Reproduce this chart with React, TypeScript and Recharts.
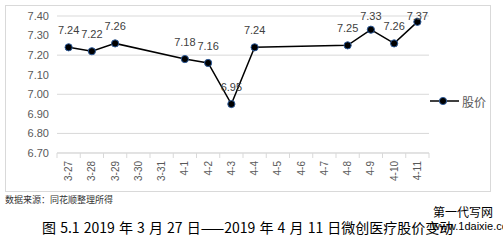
import React from 'react';
import { LineChart, Line, XAxis, YAxis, CartesianGrid, LabelList, Legend } from 'recharts';

const categories = ['3-27', '3-28', '3-29', '3-30', '3-31', '4-1', '4-2', '4-3', '4-4', '4-5', '4-6', '4-7', '4-8', '4-9', '4-10', '4-11'];
const prices: (number | null)[] = [7.24, 7.22, 7.26, null, null, 7.18, 7.16, 6.95, 7.24, null, null, null, 7.25, 7.33, 7.26, 7.37];
const yTicks = [6.7, 6.8, 6.9, 7.0, 7.1, 7.2, 7.3, 7.4];
const seriesName = '股价';
const sourceText = '数据来源：同花顺整理所得';
const captionText = '图 5.1 2019 年 3 月 27 日——2019 年 4 月 11 日微创医疗股价变动';
const watermark1 = '第一代写网';
const watermark2 = 'www.1daixie.com';

const data = categories.map((c, i) => ({ date: c, price: prices[i] }));

const W = 503;
const H = 241;
const M = { top: 16, right: 74, bottom: 48, left: 7 };
const YW = 50;
const XH = 40;
const PLOT_LEFT = M.left + YW;
const PLOT_RIGHT = W - M.right;
const PLOT_BOTTOM = H - M.bottom - XH;
const BAND = (PLOT_RIGHT - PLOT_LEFT) / categories.length;

const XTick = (props: any) => {
  const { x, payload, index } = props;
  const ty = PLOT_BOTTOM + 8;
  const last = index === categories.length - 1;
  return (
    <g>
      <line x1={x - BAND / 2} x2={x - BAND / 2} y1={PLOT_BOTTOM} y2={PLOT_BOTTOM + 5} stroke="#d9d9d9" />
      {last && <line x1={x + BAND / 2} x2={x + BAND / 2} y1={PLOT_BOTTOM} y2={PLOT_BOTTOM + 5} stroke="#d9d9d9" />}
      <text
        x={x}
        y={ty}
        transform={`rotate(-90, ${x}, ${ty})`}
        textAnchor="end"
        dominantBaseline="central"
        fontSize={10}
        fontFamily="'Liberation Sans', Arial, sans-serif"
        fill="#595959"
      >
        {payload.value}
      </text>
    </g>
  );
};

const Dot = (props: any) => {
  const { cx, cy, value } = props;
  if (value == null || cx == null || cy == null) return null;
  return <circle cx={cx} cy={cy} r={3.6} fill="#000" stroke="#2e5b9a" strokeWidth={1} />;
};

const renderLabel = (props: any) => {
  const { x, y, value } = props;
  if (value == null) return null;
  const by = Math.max(y - 13, 20);
  return (
    <text x={x} y={by} textAnchor="middle" fontSize={11} fontFamily="'Liberation Sans', Arial, sans-serif" fill="#404040">
      {Number(value).toFixed(2)}
    </text>
  );
};

const LegendContent = () => (
  <svg width={70} height={18}>
    <line x1={2} x2={31} y1={9} y2={9} stroke="#000" strokeWidth={1.5} />
    <circle cx={15} cy={9} r={3.6} fill="#000" stroke="#2e5b9a" strokeWidth={1} />
    <text x={34} y={9} dominantBaseline="central" fontSize={12} fontFamily="'Noto Sans CJK SC', sans-serif" fill="#595959">
      {seriesName}
    </text>
  </svg>
);

export default function App() {
  return (
    <div style={{ position: 'absolute', left: 0, top: 0, width: W, height: H, background: '#fff', overflow: 'hidden' }}>
      <div style={{ position: 'absolute', left: 5, top: 5, width: 486, height: 187, border: '1px solid #d9d9d9', boxSizing: 'border-box' }} />
      <div style={{ position: 'absolute', left: 0, top: 0 }}>
        <LineChart width={W} height={H} data={data} margin={M}>
          <CartesianGrid vertical={false} stroke="#d9d9d9" />
          <XAxis
            dataKey="date"
            interval={0}
            tickLine={false}
            axisLine={{ stroke: '#d9d9d9' }}
            height={XH}
            padding={{ left: BAND / 2, right: BAND / 2 }}
            tick={<XTick />}
          />
          <YAxis
            domain={[6.7, 7.4]}
            ticks={yTicks}
            width={YW}
            tickLine={false}
            axisLine={false}
            tickFormatter={(v: number) => v.toFixed(2)}
            tick={{ fontSize: 11, fill: '#595959', fontFamily: "'Liberation Sans', Arial, sans-serif" }}
          />
          <Legend
            verticalAlign="middle"
            align="center"
            layout="horizontal"
            wrapperStyle={{ left: 428, top: 92, width: 70, height: 18 }}
            content={<LegendContent />}
          />
          <Line
            dataKey="price"
            name={seriesName}
            stroke="#000"
            strokeWidth={1.5}
            connectNulls
            isAnimationActive={false}
            dot={<Dot />}
            activeDot={false}
          >
            <LabelList dataKey="price" content={renderLabel} />
          </Line>
        </LineChart>
      </div>
      <div style={{ position: 'absolute', left: 5, top: 193, fontSize: 9, fontFamily: "'Noto Sans CJK SC', serif", color: '#333', whiteSpace: 'nowrap' }}>
        {sourceText}
      </div>
      <div style={{ position: 'absolute', left: 42, top: 218, fontSize: 14, lineHeight: '18px', wordSpacing: 1, fontFamily: "'Noto Sans CJK SC', sans-serif", color: '#000', whiteSpace: 'nowrap' }}>
        {captionText}
      </div>
      <div style={{ position: 'absolute', left: 433, top: 204, fontSize: 12, lineHeight: '15px', fontFamily: "'Noto Sans CJK SC', sans-serif", color: '#000', whiteSpace: 'nowrap' }}>
        {watermark1}
      </div>
      <div style={{ position: 'absolute', left: 432, top: 219, fontSize: 11, lineHeight: '14px', fontFamily: "'Liberation Sans', Arial, sans-serif", color: '#000', whiteSpace: 'nowrap' }}>
        {watermark2}
      </div>
    </div>
  );
}
